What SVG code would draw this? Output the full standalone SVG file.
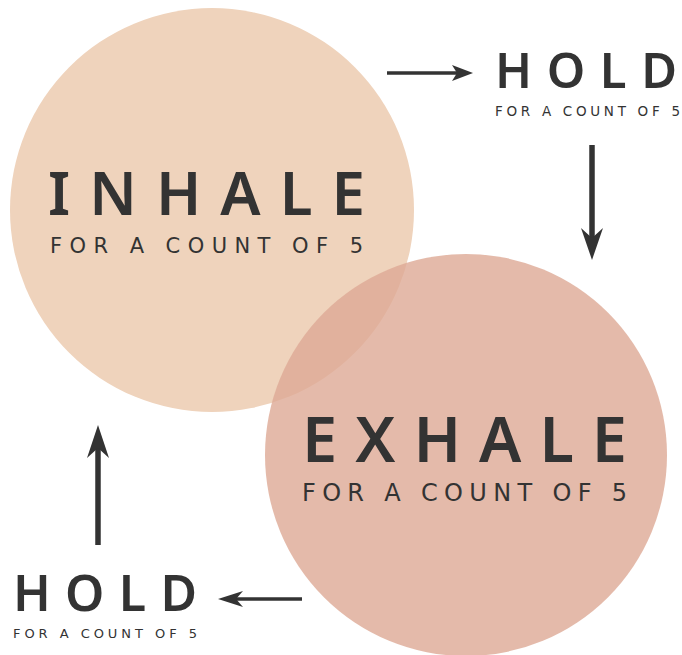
<svg xmlns="http://www.w3.org/2000/svg" width="682" height="655" viewBox="0 0 682 655">
<style>
.t{font-family:"Noto Sans","Liberation Sans",sans-serif;font-weight:600;fill:#333333}
.s{font-family:"DejaVu Sans","Noto Sans",sans-serif;font-weight:400;fill:#333333}
.ar{fill:#333333}
.sh{stroke:#333333;fill:none}
</style>
<rect width="682" height="655" fill="#ffffff"/>
<g id="inhale">
<circle cx="212" cy="210" r="202" fill="#EFD3BC"/>
</g>
<g id="exhale">
<circle cx="466" cy="455" r="201" fill="#DDA995" fill-opacity="0.8"/>
</g>
<g id="inhale-text">
<text class="t" x="48" y="215" font-size="60" textLength="317" lengthAdjust="spacing">INHALE</text>
<text class="s" x="50" y="253" font-size="21" textLength="313" lengthAdjust="spacing">FOR A COUNT OF 5</text>
</g>
<g id="exhale-text">
<text class="t" x="302" y="462" font-size="63" textLength="325" lengthAdjust="spacing">EXHALE</text>
<text class="s" x="302" y="501" font-size="24" textLength="325" lengthAdjust="spacing">FOR A COUNT OF 5</text>
</g>
<g id="hold-top">
<text class="t" x="495" y="88" font-size="49" textLength="182" lengthAdjust="spacing">HOLD</text>
<text class="s" x="495" y="116" font-size="13.5" textLength="185" lengthAdjust="spacing">FOR A COUNT OF 5</text>
</g>
<g id="hold-bottom">
<text class="t" x="13" y="611" font-size="50" textLength="184" lengthAdjust="spacing">HOLD</text>
<text class="s" x="13" y="638" font-size="13" textLength="184" lengthAdjust="spacing">FOR A COUNT OF 5</text>
</g>
<g id="connectors">
<line class="sh" x1="387" y1="73" x2="460" y2="73" stroke-width="3.5"/>
<polygon class="ar" points="473,73 452,65 457,73 452,81"/>
<line class="sh" x1="592" y1="145" x2="592" y2="240" stroke-width="5.5"/>
<polygon class="ar" points="592,260 581,228 592,238 603,228"/>
<line class="sh" x1="98" y1="545" x2="98" y2="445" stroke-width="5.5"/>
<polygon class="ar" points="98,425 87,458 98,448 109,458"/>
<line class="sh" x1="302" y1="599" x2="232" y2="599" stroke-width="3.5"/>
<polygon class="ar" points="218,599 243,591 236,599 243,607"/>
</g>
</svg>
